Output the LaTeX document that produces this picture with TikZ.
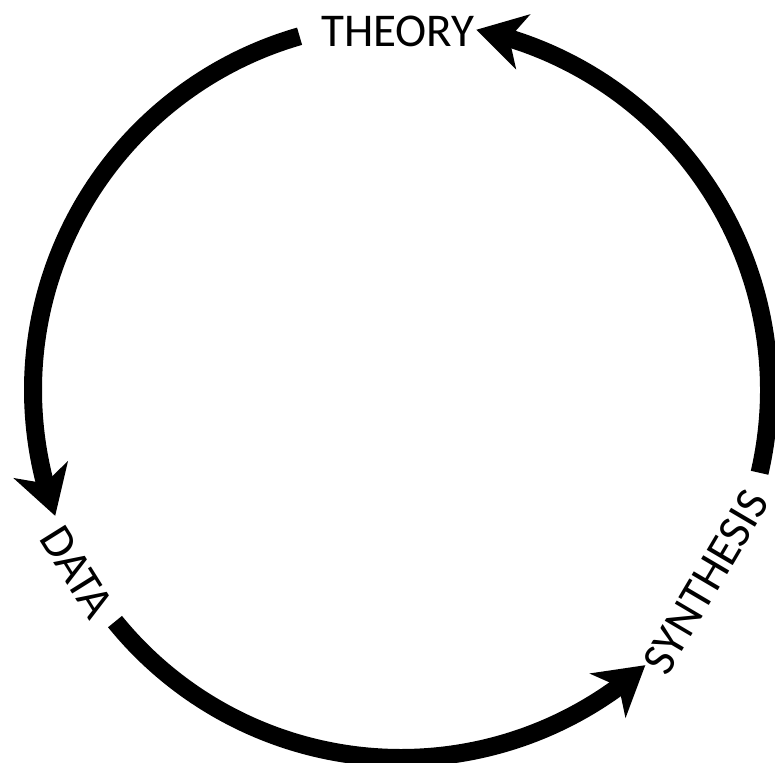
\documentclass[tikz,border=0pt]{standalone}
\usepackage{fontspec}
\newfontfamily\labfont{Carlito}
\usetikzlibrary{arrows.meta,calc,bending}
\tikzset{
  cycarrow/.style={line width=18pt, draw=black,
    -{Stealth[length=48pt, width=56pt, inset=14pt, flex]}},
  lab/.style={inner sep=0pt, font=\labfont\fontsize{47}{50}\selectfont}
}
\begin{document}
\begin{tikzpicture}[x=1pt,y=1pt]
\useasboundingbox (0,0) rectangle (775,762);
\coordinate (C) at (401,372);
\def\R{368}
\node[lab] (theory) at (398,731) {THEORY};
\node[lab, rotate=-58] (data) at (77,190) {DATA};
\node[lab, rotate=59.5] (synth) at (706,180) {SYNTHESIS};
\coordinate (s1) at ($(C)+(106:\R)$);
\coordinate (s2) at ($(C)+(219:\R)$);
\coordinate (s3) at ($(C)+(-13:\R)$);
\draw[cycarrow] (s1) arc[start angle=106, end angle=200, radius=\R];
\draw[cycarrow] (s2) arc[start angle=219, end angle=311.6, radius=\R];
\draw[cycarrow] (s3) arc[start angle=-13, end angle=78.2, radius=\R];
\end{tikzpicture}
\end{document}
